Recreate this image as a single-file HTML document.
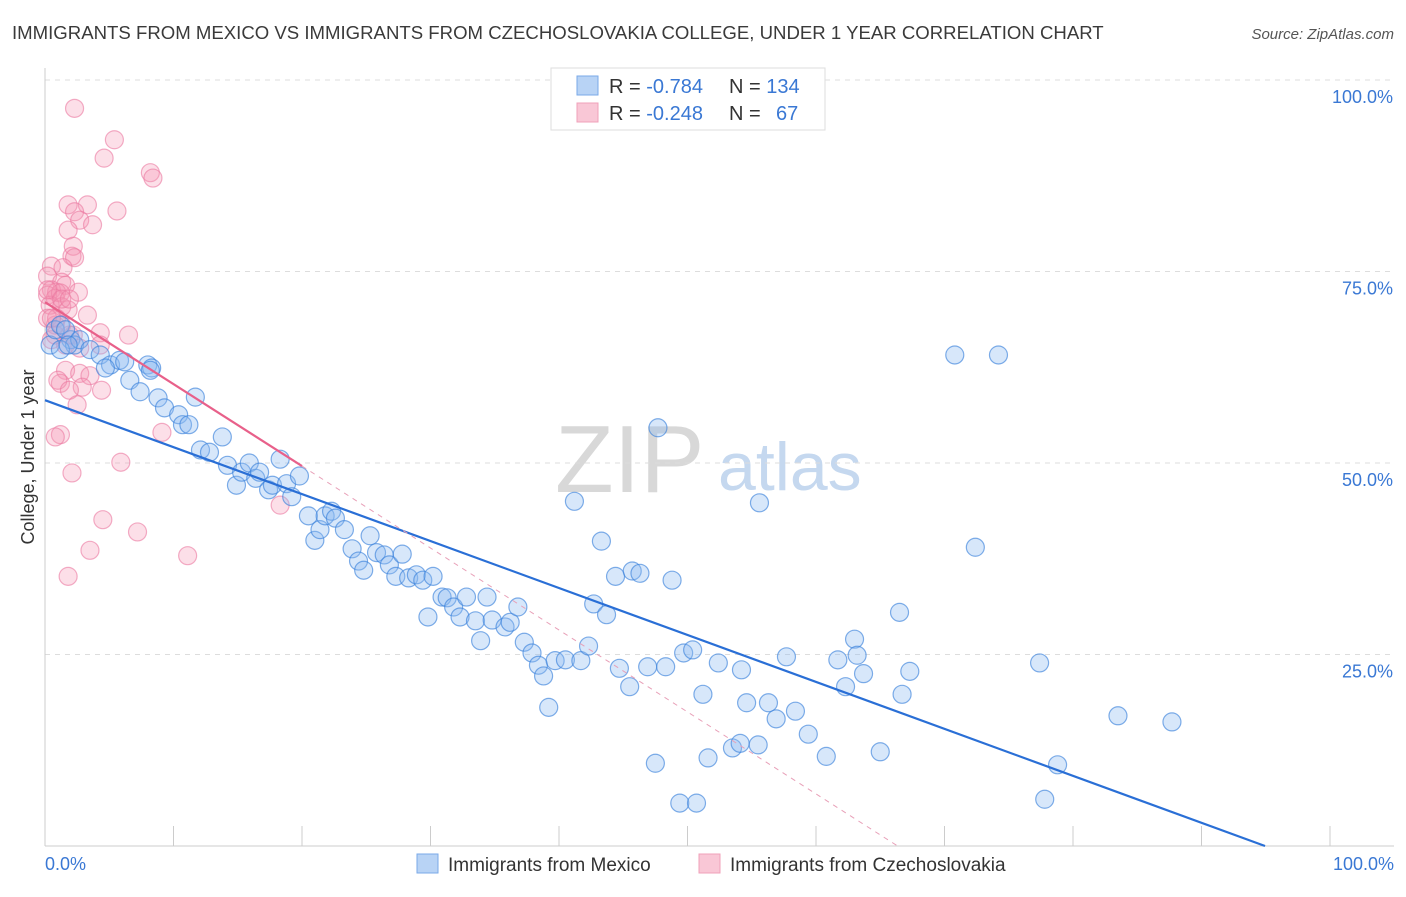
<!DOCTYPE html>
<html><head><meta charset="utf-8"><style>
body{margin:0;background:#fff;font-family:"Liberation Sans",sans-serif;}
svg text{font-family:"Liberation Sans",sans-serif;}
</style></head><body>
<svg id="chart" width="1406" height="892" xmlns="http://www.w3.org/2000/svg">
<text x="12" y="39" font-size="18.6" fill="#3a3a3a">IMMIGRANTS FROM MEXICO VS IMMIGRANTS FROM CZECHOSLOVAKIA COLLEGE, UNDER 1 YEAR CORRELATION CHART</text>
<text x="1394" y="39" font-size="15" fill="#555" text-anchor="end" font-style="italic">Source: ZipAtlas.com</text>
<g>
<text x="555" y="492" font-size="96" fill="#d8d8d8" font-family="Liberation Serif,serif">ZIP</text>
<text x="718" y="490" font-size="68" fill="#c5d8ef">atlas</text>
</g>
<g id="grid"></g>
<g id="axes"></g>
<g id="marks"></g>
<g id="lines"></g>
<g>
<rect x="551" y="68" width="274" height="62" fill="#fff" stroke="#ddd"/>
<rect x="577" y="76" width="21" height="19" fill="#b8d3f5" stroke="#7aaae8"/>
<rect x="577" y="103" width="21" height="19" fill="#f9c7d6" stroke="#f0a0ba"/>
<text x="609" y="93" font-size="20" fill="#333">R = <tspan fill="#3a78d4">-0.784</tspan><tspan x="729">N = </tspan><tspan fill="#3a78d4">134</tspan></text>
<text x="609" y="120" font-size="20" fill="#333">R = <tspan fill="#3a78d4">-0.248</tspan><tspan x="729">N = </tspan><tspan fill="#3a78d4" x="776">67</tspan></text>
</g>
<g>
<rect x="417" y="854" width="21" height="19" fill="#b8d3f5" stroke="#7aaae8"/>
<text x="448" y="871" font-size="19" fill="#333">Immigrants from Mexico</text>
<rect x="699" y="854" width="21" height="19" fill="#f9c7d6" stroke="#f0a0ba"/>
<text x="730" y="871" font-size="19" fill="#333">Immigrants from Czechoslovakia</text>
</g>
<text transform="translate(34,457) rotate(-90)" font-size="18" fill="#333" text-anchor="middle">College, Under 1 year</text>
</svg>
<script>
const mexX=[0.4,0.8,1.2,2.0,2.3,1.6,2.7,3.5,4.3,5.1,5.8,4.7,6.2,6.6,7.4,8.0,8.3,8.8,9.3,10.4,10.7,11.2,11.7,12.1,12.8,13.8,14.2,14.9,15.3,15.9,16.4,16.7,17.4,17.7,18.3,18.8,19.2,19.8,20.5,21.0,21.4,21.8,22.3,22.6,23.3,23.9,24.4,24.8,25.3,25.8,26.4,26.8,27.3,27.8,28.3,28.9,29.4,29.8,30.2,30.9,31.3,31.8,32.3,32.8,33.5,33.9,34.4,34.8,35.8,36.2,36.8,37.3,37.9,38.4,38.8,39.2,39.7,40.5,41.2,41.7,42.3,42.7,43.3,43.7,44.4,44.7,45.5,45.7,46.3,46.9,47.5,47.7,48.3,48.8,49.4,49.7,50.4,50.7,51.2,51.6,52.4,54.2,54.6,53.5,54.1,55.5,55.6,56.3,56.9,57.7,58.4,59.4,60.8,61.7,62.3,63.0,63.2,63.7,65.0,66.5,66.7,67.3,70.8,72.4,74.2,77.4,77.8,78.8,83.5,87.7,1.2,1.8,8.2];
const mexY=[65.4,67.4,68.0,66.1,65.4,67.4,66.1,64.8,64.1,62.8,63.4,62.4,63.2,60.8,59.3,62.8,62.4,58.5,57.2,56.3,55.0,55.0,58.6,51.7,51.4,53.4,49.7,47.1,48.8,50.0,48.0,48.8,46.5,47.1,50.5,47.3,45.6,48.3,43.1,39.9,41.3,43.1,43.7,42.8,41.3,38.8,37.2,36.0,40.5,38.3,38.0,36.7,35.2,38.1,35.0,35.4,34.7,29.9,35.2,32.5,32.4,31.2,29.9,32.5,29.4,26.8,32.5,29.5,28.6,29.2,31.2,26.6,25.2,23.6,22.2,18.1,24.2,24.3,45.0,24.2,26.1,31.6,39.8,30.2,35.2,23.2,20.8,35.9,35.6,23.4,10.8,54.6,23.4,34.7,5.6,25.2,25.6,5.6,19.8,11.5,23.9,23.0,18.7,12.8,13.4,13.2,44.8,18.7,16.6,24.7,17.6,14.6,11.7,24.3,20.8,27.0,24.9,22.5,12.3,30.5,19.8,22.8,64.1,39.0,64.1,23.9,6.1,10.6,17.0,16.2,64.8,65.4,62.1];
const czX=[2.3,5.4,4.6,8.2,8.4,5.6,1.8,3.3,2.3,2.7,3.7,1.8,2.2,2.1,2.3,0.5,1.4,0.2,1.3,1.6,0.5,0.9,0.2,0.8,1.2,2.6,0.4,1.3,1.8,3.3,6.5,0.8,0.2,1.3,2.2,4.3,1.6,2.7,0.5,1.6,2.7,3.5,1.2,1.0,2.9,1.9,4.4,2.5,9.1,1.2,0.8,2.1,5.9,4.5,3.5,7.2,11.1,1.8,18.3,1.9,0.9,0.2,1.3,4.3,0.8,1.9,0.5];
const czY=[96.3,92.2,89.8,87.9,87.2,82.9,83.7,83.7,82.8,81.7,81.1,80.4,78.3,77.0,76.8,75.7,75.5,74.4,73.6,73.2,72.6,72.3,71.9,71.5,72.2,72.3,70.6,70.4,70.0,69.3,66.7,68.0,68.9,68.0,66.7,67.0,65.4,65.0,66.1,62.1,61.7,61.4,60.4,60.8,59.9,59.5,59.5,57.6,54.0,53.7,53.4,48.7,50.1,42.6,38.6,41.0,37.9,35.2,44.5,66.7,68.9,72.6,71.4,65.4,66.7,71.4,68.9];
const yTicks=[100,75,50,25];
const mexTrend=[58.2,-0.613];
const czTrend=[71,-1.07];
const NS='http://www.w3.org/2000/svg';
const X0=45,X1=1330,Y0=846,Y100=80;
function sx(v){return X0+(X1-X0)*v/100;}
function sy(v){return Y0-(Y0-Y100)*v/100;}
function mk(t,a,p){const e=document.createElementNS(NS,t);for(const k in a)e.setAttribute(k,a[k]);document.getElementById(p).appendChild(e);return e;}
yTicks.forEach(v=>{
  const l=mk('line',{x1:X0,x2:1394,y1:sy(v),y2:sy(v),stroke:'#ddd','stroke-dasharray':'5,5'},'grid');
  
  
  const t=mk('text',{x:1393,y:sy(v)+23,'font-size':18,fill:'#3a78d4','text-anchor':'end'},'axes');
  t.textContent=v.toFixed(1)+'%';
  
  
});
const ax=mk('line',{x1:X0,x2:X0,y1:68,y2:Y0,stroke:'#ccc'},'axes');


const bx=mk('line',{x1:X0,x2:1394,y1:Y0,y2:Y0,stroke:'#ccc'},'axes');


for(let i=0;i<=10;i++){const t=mk('line',{x1:sx(i*10),x2:sx(i*10),y1:826,y2:Y0,stroke:'#ccc'},'axes');

}
[['0.0%',X0,'start'],['100.0%',1394,'end']].forEach(d=>{const t=mk('text',{x:d[1],y:870,'font-size':18,fill:'#3a78d4','text-anchor':d[2]},'axes');t.textContent=d[0];

});
czX.forEach((x,i)=>{const c=mk('circle',{cx:sx(x),cy:sy(czY[i]),r:9,fill:'rgba(245,150,180,0.3)',stroke:'rgba(235,120,160,0.6)','stroke-width':1.2},'marks');

});
mexX.forEach((x,i)=>{const c=mk('circle',{cx:sx(x),cy:sy(mexY[i]),r:9,fill:'rgba(140,185,240,0.35)',stroke:'rgba(60,130,220,0.65)','stroke-width':1.2},'marks');

});
const mEnd=-mexTrend[0]/mexTrend[1];
const ml=mk('line',{x1:sx(0),y1:sy(mexTrend[0]),x2:sx(mEnd),y2:sy(0),stroke:'#2a6fd6','stroke-width':2.2},'lines');


const cEnd=-czTrend[0]/czTrend[1];
const cd=mk('line',{x1:sx(20),y1:sy(czTrend[0]+czTrend[1]*20),x2:sx(cEnd),y2:sy(0),stroke:'#e8a0b8','stroke-width':1,'stroke-dasharray':'5,5'},'lines');


const cl=mk('line',{x1:sx(0),y1:sy(czTrend[0]),x2:sx(20),y2:sy(czTrend[0]+czTrend[1]*20),stroke:'#e8608a','stroke-width':2.2},'lines');


</script>
</body></html>
